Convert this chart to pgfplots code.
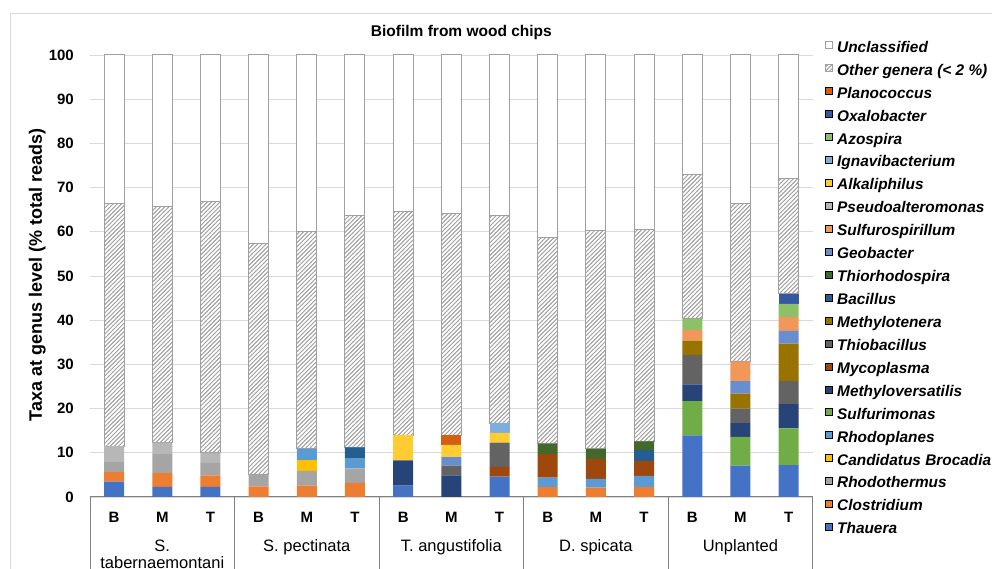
\documentclass[border=0pt]{standalone}
\usepackage{pgfplots}
\usepackage{pgfplotstable}
\pgfplotsset{compat=1.18}
\usetikzlibrary{patterns}
\usepackage{fontspec}
\setmainfont{Liberation Sans}

% Office palette, one colour per genus
\definecolor{cThau}{HTML}{4472C4}
\definecolor{cClos}{HTML}{ED7D31}
\definecolor{cRhodoth}{HTML}{A5A5A5}
\definecolor{cCandBroc}{HTML}{FFC000}
\definecolor{cRhodopl}{HTML}{5B9BD5}
\definecolor{cSulfurim}{HTML}{70AD47}
\definecolor{cMethylov}{HTML}{264478}
\definecolor{cMycopl}{HTML}{9E480E}
\definecolor{cThiobac}{HTML}{636363}
\definecolor{cMethylot}{HTML}{997300}
\definecolor{cBacil}{HTML}{255E91}
\definecolor{cThiorh}{HTML}{43682B}
\definecolor{cGeob}{HTML}{698ED0}
\definecolor{cSulfurosp}{HTML}{F1975A}
\definecolor{cPseudo}{HTML}{B7B7B7}
\definecolor{cAlkal}{HTML}{FFCD33}
\definecolor{cIgnav}{HTML}{7CAFDD}
\definecolor{cAzosp}{HTML}{8CC168}
\definecolor{cOxalo}{HTML}{335AA1}
\definecolor{cPlanoc}{HTML}{D26012}
\definecolor{cEdge}{HTML}{A0A0A0}
\definecolor{cGrid}{HTML}{D9D9D9}
\definecolor{cAxis}{HTML}{808080}

% diagonal hatching for the minor genera
\pgfdeclarepatternformonly{hatchNE}{\pgfqpoint{-1pt}{-1pt}}{\pgfqpoint{5.2pt}{5.2pt}}{\pgfqpoint{4.2pt}{4.2pt}}{%
  \pgfsetlinewidth{0.95pt}%
  \pgfpathmoveto{\pgfqpoint{-0.2pt}{-0.2pt}}%
  \pgfpathlineto{\pgfqpoint{4.4pt}{4.4pt}}%
  \pgfusepath{stroke}%
}

% relative abundance (% of total reads), one row per sample
\pgfplotstableread{
id Thau Clos Rhodoth CandBroc Rhodopl Sulfurim Methylov Mycopl Thiobac Methylot Bacil Thiorh Geob Sulfurosp Pseudo Alkal Ignav Azosp Oxalo Planoc Other Uncl
0  3.5  2.1 2.3 0   0   0    0   0   0   0   0   0   0   0   3.6 0   0   0   0   0   55.0 33.5
1  2.3  3.1 4.3 0   0   0    0   0   0   0   0   0   0   0   2.6 0   0   0   0   0   53.5 34.2
2  2.3  2.6 2.8 0   0   0    0   0   0   0   0   0   0   0   2.3 0   0   0   0   0   56.8 33.2
3  0    2.4 2.7 0   0   0    0   0   0   0   0   0   0   0   0   0   0   0   0   0   52.2 42.7
4  0    2.6 3.3 2.5 2.5 0    0   0   0   0   0   0   0   0   0   0   0   0   0   0   49.1 40.0
5  0    3.2 3.3 0   2.2 0    0   0   0   0   2.5 0   0   0   0   0   0   0   0   0   52.5 36.3
6  2.6  0   0   0   0   0    5.7 0   0   0   0   0   0   0   0   5.7 0   0   0   0   50.5 35.5
7  0    0   0   0   0   0    4.9 0   2.2 0   0   0   1.9 0   0   2.8 0   0   0   2.2 50.2 35.8
8  4.6  0   0   0   0   0    0   2.2 5.5 0   0   0   0   0   0   2.2 2.2 0   0   0   46.9 36.4
9  0    2.3 0   0   2.1 0    0   5.3 0   0   0   2.4 0   0   0   0   0   0   0   0   46.5 41.4
10 0    2.1 0   0   2.0 0    0   4.5 0   0   0   2.3 0   0   0   0   0   0   0   0   49.4 39.7
11 0    2.3 0   0   2.5 0    0   3.4 0   0   2.4 2.0 0   0   0   0   0   0   0   0   47.9 39.5
12 13.95 0  0   0   0   7.75 3.8 0   6.6 3.3 0   0   0   2.4 0   0   0   2.5 0   0   32.7 27.0
13 7.1  0   0   0   0   6.5  3.1 0   3.3 3.4 0   0   2.8 4.4 0   0   0   0   0   0   35.8 33.6
14 7.2  0   0   0   0   8.3  5.5 0   5.3 8.4 0   0   2.9 3.1 0   0   0   3.0 2.3 0   26.0 28.0
}\taxa

\begin{document}
\begin{tikzpicture}
\begin{axis}[
  at={(0pt,0pt)}, anchor=south west,
  scale only axis, width=722.7pt, height=442pt,
  ybar stacked, bar width=0.415,
  xmin=-0.5, xmax=14.5, ymin=0, ymax=100,
  xtick=data, xticklabels={B,M,T,B,M,T,B,M,T,B,M,T,B,M,T},
  ytick={0,10,...,100},
  axis x line*=bottom, axis y line*=left,
  y axis line style={draw=none},
  x axis line style={draw=cAxis, line width=1pt},
  major tick length=0pt,
  ymajorgrids, major grid style={draw=cGrid, line width=0.9pt},
  /pgf/number format/assume math mode=true,
  tick label style={font=\fontsize{15}{15}\selectfont\bfseries, inner sep=0pt},
  yticklabel style={anchor=east, xshift=-16pt},
  xticklabel style={anchor=north, yshift=-14.5pt},
  every axis plot/.append style={draw=none},
  legend image code/.code={\draw[#1] (0pt,-0.5pt) rectangle (7pt,6.5pt);},
  clip=false,
  reverse legend,
  legend cell align=left,
  legend style={draw=none, fill=none, at={(1.017,1.0314)}, anchor=north west,
    inner sep=0pt, row sep=8.93pt,
    font=\fontsize{15.4}{15.4}\selectfont\bfseries\itshape,
    nodes={inner sep=0pt, text height=11pt, text depth=3pt},
    /tikz/every odd column/.append style={column sep=4pt}},
]
\addplot[fill=cThau] table[x=id,y=Thau]{\taxa}; \addlegendentry{Thauera}
\addplot[fill=cClos] table[x=id,y=Clos]{\taxa}; \addlegendentry{Clostridium}
\addplot[fill=cRhodoth] table[x=id,y=Rhodoth]{\taxa}; \addlegendentry{Rhodothermus}
\addplot[fill=cCandBroc] table[x=id,y=CandBroc]{\taxa}; \addlegendentry{Candidatus Brocadia}
\addplot[fill=cRhodopl] table[x=id,y=Rhodopl]{\taxa}; \addlegendentry{Rhodoplanes}
\addplot[fill=cSulfurim] table[x=id,y=Sulfurim]{\taxa}; \addlegendentry{Sulfurimonas}
\addplot[fill=cMethylov] table[x=id,y=Methylov]{\taxa}; \addlegendentry{Methyloversatilis}
\addplot[fill=cMycopl] table[x=id,y=Mycopl]{\taxa}; \addlegendentry{Mycoplasma}
\addplot[fill=cThiobac] table[x=id,y=Thiobac]{\taxa}; \addlegendentry{Thiobacillus}
\addplot[fill=cMethylot] table[x=id,y=Methylot]{\taxa}; \addlegendentry{Methylotenera}
\addplot[fill=cBacil] table[x=id,y=Bacil]{\taxa}; \addlegendentry{Bacillus}
\addplot[fill=cThiorh] table[x=id,y=Thiorh]{\taxa}; \addlegendentry{Thiorhodospira}
\addplot[fill=cGeob] table[x=id,y=Geob]{\taxa}; \addlegendentry{Geobacter}
\addplot[fill=cSulfurosp] table[x=id,y=Sulfurosp]{\taxa}; \addlegendentry{Sulfurospirillum}
\addplot[fill=cPseudo] table[x=id,y=Pseudo]{\taxa}; \addlegendentry{Pseudoalteromonas}
\addplot[fill=cAlkal] table[x=id,y=Alkal]{\taxa}; \addlegendentry{Alkaliphilus}
\addplot[fill=cIgnav] table[x=id,y=Ignav]{\taxa}; \addlegendentry{Ignavibacterium}
\addplot[fill=cAzosp] table[x=id,y=Azosp]{\taxa}; \addlegendentry{Azospira}
\addplot[fill=cOxalo] table[x=id,y=Oxalo]{\taxa}; \addlegendentry{Oxalobacter}
\addplot[fill=cPlanoc] table[x=id,y=Planoc]{\taxa}; \addlegendentry{Planococcus}
\addplot[fill=white, draw=cEdge, line width=1pt,
  postaction={pattern=hatchNE, pattern color=cEdge}]
  table[x=id,y=Other]{\taxa}; \addlegendentry{Other genera (< 2 \%)}
\addplot[fill=white, draw=cEdge, line width=1pt] table[x=id,y=Uncl]{\taxa}; \addlegendentry{Unclassified}

% group separators below the axis
\draw[cAxis, line width=1pt] (axis cs:-0.5,0) -- ++(0pt,-90pt);
\draw[cAxis, line width=1pt] (axis cs:2.5,0) -- ++(0pt,-90pt);
\draw[cAxis, line width=1pt] (axis cs:5.5,0) -- ++(0pt,-90pt);
\draw[cAxis, line width=1pt] (axis cs:8.5,0) -- ++(0pt,-90pt);
\draw[cAxis, line width=1pt] (axis cs:11.5,0) -- ++(0pt,-90pt);
\draw[cAxis, line width=1pt] (axis cs:14.5,0) -- ++(0pt,-90pt);
% group names
\node[anchor=base, inner sep=0pt, font=\fontsize{16.5}{16.5}\selectfont] at ([yshift=-55pt]axis cs:1,0) {S.};
\node[anchor=base, inner sep=0pt, font=\fontsize{16.5}{16.5}\selectfont] at ([yshift=-71pt]axis cs:1,0) {tabernaemontani};
\node[anchor=base, inner sep=0pt, font=\fontsize{16.5}{16.5}\selectfont] at ([yshift=-55pt]axis cs:4,0) {S. pectinata};
\node[anchor=base, inner sep=0pt, font=\fontsize{16.5}{16.5}\selectfont] at ([yshift=-55pt]axis cs:7,0) {T. angustifolia};
\node[anchor=base, inner sep=0pt, font=\fontsize{16.5}{16.5}\selectfont] at ([yshift=-55pt]axis cs:10,0) {D. spicata};
\node[anchor=base, inner sep=0pt, font=\fontsize{16.5}{16.5}\selectfont] at ([yshift=-55pt]axis cs:13,0) {Unplanted};
\end{axis}
% title and y label
\node[anchor=base, inner sep=0pt, font=\fontsize{15.5}{15.5}\selectfont\bfseries] at (371.4pt,460.7pt) {Biofilm from wood chips};
\node[anchor=base, rotate=90, inner sep=0pt, font=\fontsize{18}{18}\selectfont\bfseries] at (-48pt,222pt) {Taxa at genus level (\% total reads)};
% chart frame
\draw[cGrid, line width=0.8pt] (-80pt,-80pt) -- (-80pt,484pt) -- (910pt,484pt);
\pgfresetboundingbox
\useasboundingbox (-90pt,-72pt) rectangle (902pt,497pt);
\end{tikzpicture}
\end{document}
